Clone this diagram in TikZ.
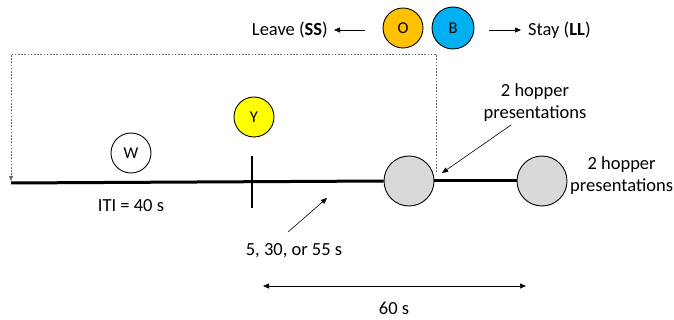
\documentclass[tikz,border=0pt]{standalone}
\usepackage{fontspec}
\setmainfont{Carlito}
\usetikzlibrary{arrows.meta}
\definecolor{orangeC}{HTML}{FFC000}
\definecolor{blueC}{HTML}{00B0F0}
\definecolor{yellowC}{HTML}{FFFF00}
\definecolor{greyC}{HTML}{D9D9D9}
\tikzset{
  stim/.style={circle,draw=black,line width=0.9pt,minimum size=40pt,inner sep=0pt,font=\fontsize{16.5}{18}\selectfont},
  hopper/.style={circle,draw=black,line width=0.9pt,fill=greyC,minimum size=50pt,inner sep=0pt},
  lbl/.style={font=\fontsize{18.5}{22}\selectfont,inner sep=0pt,align=center},
  thinarrow/.style={line width=0.6pt,-{Triangle[length=6pt,width=5pt]}},
  timeline/.style={line width=3pt},
  loopline/.style={line width=0.8pt,gray!80!black,dash pattern=on 1.6pt off 1.6pt}
}
\begin{document}
\begin{tikzpicture}[x=1pt,y=-1pt]
\useasboundingbox (0,0) rectangle (674,320);

% choice keys
\node[stim,fill=orangeC] (O) at (403,28) {O};
\node[stim,fill=blueC,minimum size=42pt] (B) at (453,28) {B};
\node[lbl,anchor=east] (leave) at (328,30) {Leave (\textbf{SS})};
\node[lbl,anchor=west] (stay) at (528,30) {Stay (\textbf{LL})};
\coordinate (leaveS) at (365,30);
\coordinate (stayS) at (489,30);
\draw[thinarrow] (leaveS) -- ([xshift=6pt]leave.east);
\draw[thinarrow] (stayS) -- ([xshift=-7pt]stay.west);

% timeline
\coordinate (tStart) at (11,183);
\node[hopper] (h1) at (409,181) {};
\node[hopper] (h2) at (542,181) {};
\draw[timeline] (tStart) -- (h1.west);
\draw[timeline] (h1.east) -- (h2.west);
\coordinate (tickTop) at (252,156);
\coordinate (tickBot) at (252,208);
\draw[line width=2.8pt] (tickTop) -- (tickBot);

% stimuli on the line
\node[stim] (W) at (131,153) {W};
\node[stim,fill=yellowC] (Y) at (254,117) {Y};

% return loop
\coordinate (loopA) at (436,172);
\coordinate (loopB) at (436,54);
\coordinate (loopC) at (11,54);
\coordinate (loopD) at (11,181);
\draw[loopline,-{Triangle[length=5pt,width=4pt]}] (loopA) -- (loopB) -- (loopC) -- (loopD);

% labels
\node[lbl] (iti) at (131,206) {ITI = 40 s};
\node[lbl] (delay) at (294,251) {5, 30, or 55 s};
\coordinate (delayTail) at (288,232);
\coordinate (delayTip) at (327,198);
\draw[thinarrow] (delayTail) -- (delayTip);

\node[lbl] (hopTop) at (535,103) {2 hopper\\presentations};
\coordinate (hopTail) at (511,125);
\coordinate (hopTip) at (442,173);
\draw[thinarrow] (hopTail) -- (hopTip);

\node[lbl,anchor=west] (hopRight) at (570,176) {2 hopper\\presentations};

% 60 s span
\coordinate (spanL) at (263,286);
\coordinate (spanR) at (526,286);
\draw[line width=0.6pt,{Triangle[length=6pt,width=5pt]}-{Triangle[length=6pt,width=5pt]}] (spanL) -- (spanR);
\node[lbl] (sixty) at (394,308) {60 s};
\end{tikzpicture}
\end{document}
